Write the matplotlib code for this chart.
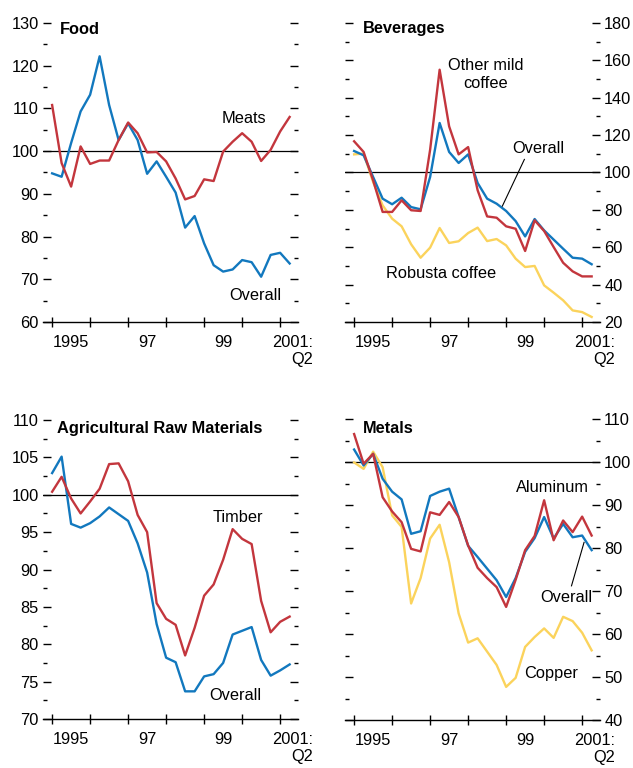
import numpy as np
import matplotlib
matplotlib.use('Agg')
import matplotlib.pyplot as plt
from matplotlib.ticker import MultipleLocator
import matplotlib.transforms as mtransforms

plt.rcParams['font.family'] = ['Liberation Sans', 'DejaVu Sans']

# quarterly, 1995:Q1 .. 2001:Q2
quarters = 1995 + np.arange(26) / 4.0

food_overall = [94.8, 94.0, 101.9, 109.3, 113.2, 122.2, 110.8, 102.6, 106.5, 102.6,
                94.7, 97.6, 94.0, 90.3, 82.1, 84.8, 78.4, 73.3, 71.8, 72.3,
                74.5, 74.0, 70.6, 75.7, 76.2, 73.7]
food_meats = [110.8, 97.2, 91.7, 101.1, 97.0, 97.8, 97.8, 102.6, 106.7, 104.2,
              99.7, 99.8, 97.6, 93.6, 88.7, 89.5, 93.4, 93.0, 99.9, 102.2,
              104.2, 102.2, 97.7, 100.3, 104.6, 108.0]

bev_overall = [111.5, 109.2, 97.6, 86.0, 83.0, 86.5, 81.5, 80.3, 97.6, 126.5,
               111.0, 105.1, 109.7, 94.4, 86.0, 83.3, 79.4, 74.0, 65.8, 75.1,
               69.0, 64.1, 59.2, 54.4, 53.9, 50.9]
bev_mild = [116.7, 111.0, 95.8, 78.9, 78.9, 85.1, 79.8, 79.4, 112.2, 155.0,
            124.7, 109.7, 113.6, 90.5, 76.5, 75.8, 71.2, 69.9, 58.0, 74.4,
            68.7, 60.1, 51.7, 47.1, 44.4, 44.4]
bev_robusta = [109.7, 110.1, 94.9, 82.4, 75.3, 71.2, 61.6, 54.4, 59.8, 70.3,
               62.3, 63.2, 67.6, 70.5, 63.3, 64.4, 61.0, 53.9, 49.4, 50.0,
               39.6, 35.7, 31.6, 26.2, 25.3, 22.7]

agr_overall = [102.9, 105.1, 96.1, 95.6, 96.2, 97.1, 98.3, 97.4, 96.5, 93.5,
               89.6, 82.7, 78.2, 77.6, 73.7, 73.7, 75.7, 76.0, 77.5, 81.3,
               81.8, 82.3, 77.9, 75.8, 76.5, 77.3]
agr_timber = [100.4, 102.4, 99.5, 97.5, 99.1, 100.8, 104.1, 104.2, 101.8, 97.3,
              95.0, 85.5, 83.4, 82.6, 78.5, 82.2, 86.5, 88.0, 91.3, 95.4,
              94.1, 93.4, 85.8, 81.6, 83.0, 83.7]

met_overall = [102.9, 99.2, 101.9, 96.1, 93.1, 91.3, 83.3, 83.9, 92.1, 93.1,
               93.8, 87.2, 80.5, 77.9, 75.2, 72.5, 68.6, 73.0, 79.1, 82.3,
               87.2, 82.2, 85.6, 82.5, 82.9, 79.5]
met_aluminum = [106.5, 99.6, 101.9, 91.8, 88.5, 86.0, 79.8, 79.2, 88.3, 87.7,
                90.7, 87.2, 80.6, 75.4, 73.0, 70.9, 66.3, 72.6, 79.5, 82.8,
                91.1, 81.8, 86.4, 83.7, 87.3, 82.9]
met_copper = [99.9, 98.4, 102.4, 98.8, 87.6, 84.9, 67.1, 73.0, 82.2, 85.4,
              76.7, 64.8, 58.0, 59.0, 55.9, 52.8, 47.7, 49.8, 57.0, 59.3,
              61.3, 59.1, 64.0, 63.0, 60.3, 56.2]

year_labels = ['1995', '97', '99', '2001:\nQ2']
year_label_pos = [1995.5, 1997.5, 1999.5, 2001.33]

BLUE = '#1278be'
RED = '#c3363d'
YELLOW = '#fbd35c'
LW = 1.7
FS = 11.8

fig = plt.figure(figsize=(6.33, 7.68), dpi=100)
W, H = 633, 768


def make_ax(left, top, bottom, ylim, major, minor, right_labels=False):
    ax = fig.add_axes([left / W, 1 - bottom / H, 255 / W, (bottom - top) / H])
    ax.set_xlim(1994.76, 2001.47)
    ax.set_ylim(*ylim)
    for s in ['left', 'right', 'top']:
        ax.spines[s].set_visible(False)
    ax.spines['bottom'].set_linewidth(1.0)
    ax.axhline(100, color='black', lw=0.9, zorder=1)
    ax.yaxis.set_major_locator(MultipleLocator(major))
    ax.yaxis.set_minor_locator(MultipleLocator(minor))
    ax.tick_params(axis='y', which='both', direction='in', left=True, right=True,
                   labelleft=not right_labels, labelright=right_labels,
                   labelsize=FS, pad=3)
    ax.tick_params(axis='y', which='major', length=6, width=1)
    ax.tick_params(axis='y', which='minor', length=3, width=1)
    ax.set_xticks(range(1995, 2002))
    ax.set_xticklabels([])
    ax.tick_params(axis='x', which='major', direction='inout', length=7, width=1)
    tr = mtransforms.blended_transform_factory(ax.transData, ax.transAxes)
    for xp, lab in zip(year_label_pos, year_labels):
        ax.text(xp, -0.043, lab, transform=tr, ha='center', va='top',
                fontsize=FS, multialignment='right', linespacing=1.2)
    return ax


def title(ax, x, y, s):
    ax.text(x, y, s, transform=ax.transAxes, fontsize=FS, fontweight='bold',
            ha='left', va='center')


# Food
ax = make_ax(43, 23, 322, (60, 130), 10, 5)
ax.plot(quarters, food_overall, color=BLUE, lw=LW)
ax.plot(quarters, food_meats, color=RED, lw=LW)
title(ax, 0.067, 0.977, 'Food')
ax.text(2000.04, 107.7, 'Meats', ha='center', va='center', fontsize=FS)
ax.text(2000.35, 66.3, 'Overall', ha='center', va='center', fontsize=FS)

# Beverages
ax = make_ax(345, 23, 322, (20, 180), 20, 10, right_labels=True)
ax.plot(quarters, bev_robusta, color=YELLOW, lw=LW)
ax.plot(quarters, bev_overall, color=BLUE, lw=LW)
ax.plot(quarters, bev_mild, color=RED, lw=LW)
title(ax, 0.07, 0.98, 'Beverages')
ax.text(1998.47, 152.3, 'Other mild\ncoffee', ha='center', va='center',
        fontsize=FS, linespacing=1.25)
ax.text(1999.85, 113, 'Overall', ha='center', va='center', fontsize=FS)
ax.plot([1999.48, 1998.9], [107, 82], color='black', lw=0.8)
ax.text(1997.29, 46.2, 'Robusta coffee', ha='center', va='center', fontsize=FS)

# Agricultural raw materials
ax = make_ax(43, 420, 719, (70, 110), 5, 2.5)
ax.plot(quarters, agr_overall, color=BLUE, lw=LW)
ax.plot(quarters, agr_timber, color=RED, lw=LW)
title(ax, 0.055, 0.973, 'Agricultural Raw Materials')
ax.text(1999.88, 97.0, 'Timber', ha='center', va='center', fontsize=FS)
ax.text(1999.83, 73.1, 'Overall', ha='center', va='center', fontsize=FS)

# Metals
ax = make_ax(345, 419, 720, (40, 110), 10, 5, right_labels=True)
ax.plot(quarters, met_copper, color=YELLOW, lw=LW)
ax.plot(quarters, met_overall, color=BLUE, lw=LW)
ax.plot(quarters, met_aluminum, color=RED, lw=LW)
title(ax, 0.07, 0.97, 'Metals')
ax.text(2000.21, 94.1, 'Aluminum', ha='center', va='center', fontsize=FS)
ax.text(2000.58, 68.5, 'Overall', ha='center', va='center', fontsize=FS)
ax.plot([2001.05, 2000.72], [81.3, 71.2], color='black', lw=0.8)
ax.text(2000.19, 50.9, 'Copper', ha='center', va='center', fontsize=FS)

fig.patch.set_facecolor('w')
plt.savefig('out.png', dpi=100)
